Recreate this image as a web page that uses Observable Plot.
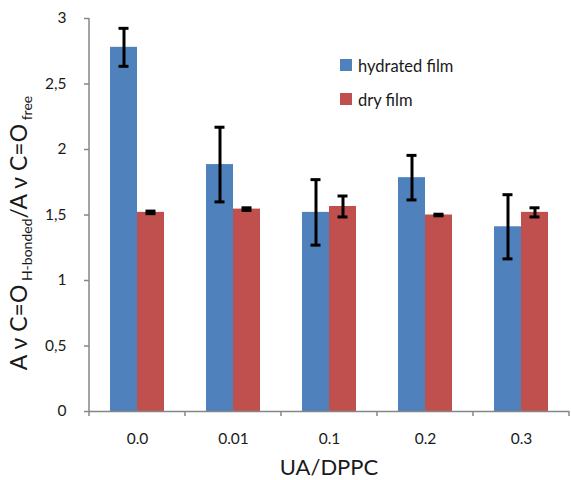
<!DOCTYPE html>
<html>
<head>
<meta charset="utf-8">
<script src="https://cdn.jsdelivr.net/npm/d3@7"></script>
<script src="https://cdn.jsdelivr.net/npm/@observablehq/plot@0.6"></script>
<style>
  html, body { margin: 0; padding: 0; background: #fff; }
  #chart { width: 571px; height: 480px; }
</style>
</head>
<body>
<div id="chart"></div>
<script>
const categories = ["0.0", "0.01", "0.1", "0.2", "0.3"];
const seriesNames = ["hydrated film", "dry film"];
const seriesColors = ["#4F81BD", "#C0504D"];
const hydrated = [2.78, 1.885, 1.52, 1.785, 1.41];
const hydratedErr = [0.145, 0.285, 0.25, 0.17, 0.245];
const dry = [1.52, 1.545, 1.565, 1.50, 1.52];
const dryErr = [0.01, 0.01, 0.08, 0.006, 0.035];
const yTicks = [0, 0.5, 1, 1.5, 2, 2.5, 3];
const xTitle = "UA/DPPC";

const rows = [];
categories.forEach((c, i) => {
  rows.push({cat: c, series: seriesNames[0], value: hydrated[i], err: hydratedErr[i]});
  rows.push({cat: c, series: seriesNames[1], value: dry[i], err: dryErr[i]});
});

const axisGray = "#868686";

const chart = Plot.plot({
  width: 571,
  height: 480,
  marginLeft: 87,
  marginRight: 0,
  marginTop: 18,
  marginBottom: 69,
  style: {fontFamily: "Lato, 'Open Sans', sans-serif", fontSize: "15.5px", color: "#1a1a1a", background: "white", overflow: "visible"},
  fx: {domain: categories, padding: 0, label: null, tickSize: 0, tickPadding: 21, axis: "bottom"},
  x: {domain: seriesNames, paddingInner: 0, paddingOuter: 0.76, axis: null},
  y: {domain: [0, 3], ticks: yTicks, tickFormat: d => String(d).replace(".", ","), tickSize: 5, tickPadding: 18, label: null},
  color: {domain: seriesNames, range: seriesColors},
  marks: [
    Plot.barY(rows, {fx: "cat", x: "series", y: "value", fill: "series"}),
    Plot.ruleY([0], {stroke: axisGray, strokeWidth: 1.5}),
    Plot.ruleX(rows, {fx: "cat", x: "series", y1: d => d.value - d.err, y2: d => d.value + d.err, stroke: "black", strokeWidth: 3}),
    Plot.tickY(rows, {fx: "cat", x: "series", y: d => d.value - d.err, stroke: "black", strokeWidth: 3, insetLeft: 8.5, insetRight: 8.5}),
    Plot.tickY(rows, {fx: "cat", x: "series", y: d => d.value + d.err, stroke: "black", strokeWidth: 3, insetLeft: 8.5, insetRight: 8.5})
  ]
});

document.getElementById("chart").appendChild(chart);

const svg = d3.select(chart);
const fx = chart.scale("fx");
const y = chart.scale("y");
const color = chart.scale("color");
const y0 = y.apply(0);
const y3 = y.apply(3);

// y tick styling
svg.selectAll('g[aria-label="y-axis tick"] path').attr("stroke", axisGray).attr("stroke-width", 1.5);

const deco = svg.append("g");
// y axis line
const xLeft = fx.apply(categories[0]);
deco.append("line")
  .attr("x1", xLeft).attr("x2", xLeft).attr("y1", y3).attr("y2", y0 + 0.75)
  .attr("stroke", axisGray).attr("stroke-width", 1.5);
// x boundary ticks
const bounds = categories.map(c => fx.apply(c));
bounds.push(fx.apply(categories[categories.length - 1]) + fx.bandwidth);
bounds.forEach(b => {
  deco.append("line")
    .attr("x1", b).attr("x2", b).attr("y1", y0).attr("y2", y0 + 5)
    .attr("stroke", axisGray).attr("stroke-width", 1.5);
});

// legend
const legend = svg.append("g")
  .attr("font-family", "Lato, sans-serif").attr("font-size", 16.5)
  .attr("fill", "#1a1a1a").attr("text-anchor", "start");
seriesNames.forEach((s, i) => {
  const top = 59 + i * 34;
  legend.append("rect").attr("x", 340).attr("y", top).attr("width", 12).attr("height", 12).attr("fill", color.apply(s));
  legend.append("text").attr("x", 358).attr("y", top + 12.5).text(s);
});

// x title
svg.append("text")
  .attr("x", (87 + 571) / 2).attr("y", 475)
  .attr("text-anchor", "middle")
  .attr("font-family", "Lato, sans-serif").attr("font-size", 22).attr("fill", "#1a1a1a")
  .text(xTitle);

// y title
const yt = svg.append("text")
  .attr("transform", "translate(27,233) rotate(-90)")
  .attr("text-anchor", "middle")
  .attr("font-family", "Lato, sans-serif").attr("font-size", 23).attr("fill", "#1a1a1a");
yt.append("tspan").text("A \u03BD C=O");
yt.append("tspan").attr("font-size", 14).attr("dy", 5).text(" H-bonded");
yt.append("tspan").attr("dy", -5).text("/A \u03BD C=O");
yt.append("tspan").attr("font-size", 14).attr("dy", 5).text(" free");
</script>
</body>
</html>
